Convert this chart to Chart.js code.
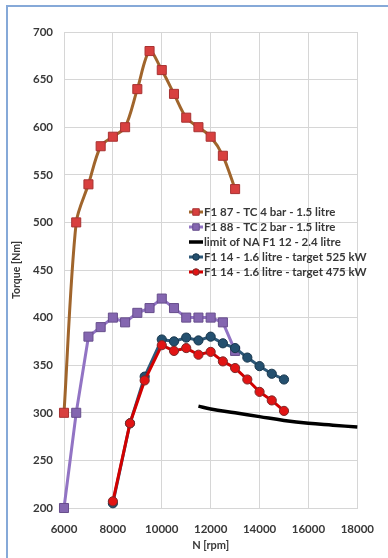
<!DOCTYPE html>
<html>
<head>
<meta charset="utf-8">
<script src="https://cdn.jsdelivr.net/npm/chart.js@4/dist/chart.umd.min.js"></script>
<style>
  html, body { margin: 0; padding: 0; background: #ffffff; }
  #wrap { position: relative; width: 388px; height: 558px; overflow: hidden; }
  #frame { position: absolute; left: 6px; top: 5px; right: -10px; bottom: -10px;
           border-top: 2px solid #86a9d8; border-left: 2px solid #86a9d8; }
  canvas { position: absolute; left: 0; top: 0; }
</style>
</head>
<body>
<div id="wrap">
  <div id="frame"></div>
  <canvas id="torque" width="388" height="558"></canvas>
</div>
<script>
// Engine speed (rpm) and torque (Nm) per engine
const rpmTurbo = [6000, 6500, 7000, 7500, 8000, 8500, 9000, 9500, 10000, 10500, 11000, 11500, 12000, 12500, 13000];
const torqueF187 = [300, 500, 540, 580, 590, 600, 640, 680, 660, 635, 610, 600, 590, 570, 535];
const torqueF188 = [200, 300, 380, 390, 400, 395, 405, 410, 420, 410, 400, 400, 400, 395, 365];

const rpmNA = [11500, 12000, 13000, 14000, 15000, 16000, 17000, 18000];
const torqueNA = [307, 304, 300, 296, 292, 289, 287, 285];

const rpmF114 = [8000, 8700, 9300, 10000, 10500, 11000, 11500, 12000, 12500, 13000, 13500, 14000, 14500, 15000];
const torque525 = [205, 289, 338, 377, 375, 379, 376, 380, 373, 368, 358, 349, 341, 335];
const torque475 = [207, 289, 334, 371, 365, 368, 361, 364, 354, 347, 335, 322, 313, 302];

const seriesNames = [
  'F1 87 - TC 4 bar - 1.5 litre',
  'F1 88 - TC 2 bar - 1.5 litre',
  'limit of NA F1 12 - 2.4 litre',
  'F1 14 - 1.6 litre - target 525 kW',
  'F1 14 - 1.6 litre - target 475 kW'
];

const xTicks = [6000, 8000, 10000, 12000, 14000, 16000, 18000];
const yTicks = [200, 250, 300, 350, 400, 450, 500, 550, 600, 650, 700];

const FONT = "'Lato', 'Open Sans', sans-serif";
const TEXT = '#383838';
const GRID = '#d6d6d6';

const pts = (xs, ys) => xs.map((x, i) => ({ x: x, y: ys[i] }));

// Legend drawn inside the plot area, to the right of the curves
const insideLegend = {
  id: 'insideLegend',
  afterDraw(chart) {
    const ctx = chart.ctx;
    const x0 = 189, y0 = 212, rowH = 15;
    ctx.save();
    ctx.font = 'bold 11.5px ' + FONT;
    ctx.textBaseline = 'middle';
    ctx.textAlign = 'left';
    chart.data.datasets.forEach((ds, i) => {
      const y = y0 + i * rowH;
      ctx.strokeStyle = ds.borderColor;
      ctx.lineWidth = ds.borderWidth;
      ctx.beginPath();
      ctx.moveTo(x0, y);
      ctx.lineTo(x0 + 14, y);
      ctx.stroke();
      if (ds.pointRadius > 0) {
        ctx.fillStyle = ds.pointBackgroundColor;
        ctx.strokeStyle = ds.pointBorderColor;
        ctx.lineWidth = ds.pointBorderWidth;
        Chart.helpers.drawPoint(ctx, {
          pointStyle: ds.pointStyle,
          radius: ds.pointRadius * 0.72,
          borderWidth: ds.pointBorderWidth
        }, x0 + 7, y);
      }
      ctx.fillStyle = TEXT;
      ctx.fillText(ds.label, x0 + 15, y + 0.5);
    });
    ctx.restore();
  }
};

new Chart(document.getElementById('torque'), {
  type: 'line',
  data: {
    datasets: [
      {
        label: seriesNames[0], data: pts(rpmTurbo, torqueF187), order: 4, clip: false,
        borderColor: '#a0652c', borderWidth: 3, tension: 0.3,
        pointStyle: 'rect', pointRadius: 6.4, pointBorderWidth: 1,
        pointBackgroundColor: '#d8403f', pointBorderColor: '#a83232'
      },
      {
        label: seriesNames[1], data: pts(rpmTurbo, torqueF188), order: 3, clip: false,
        borderColor: '#9274c4', borderWidth: 3, tension: 0,
        pointStyle: 'rect', pointRadius: 6.4, pointBorderWidth: 1,
        pointBackgroundColor: '#8466b0', pointBorderColor: '#674e8c'
      },
      {
        label: seriesNames[2], data: pts(rpmNA, torqueNA), order: 2, clip: false,
        borderColor: '#000000', borderWidth: 3.5, tension: 0.4,
        pointRadius: 0, pointBorderWidth: 0,
        pointBackgroundColor: '#000000', pointBorderColor: '#000000'
      },
      {
        label: seriesNames[3], data: pts(rpmF114, torque525), order: 1, clip: false,
        borderColor: '#2d5878', borderWidth: 3, tension: 0,
        pointStyle: 'circle', pointRadius: 4.6, pointBorderWidth: 1,
        pointBackgroundColor: '#24506f', pointBorderColor: '#18364c'
      },
      {
        label: seriesNames[4], data: pts(rpmF114, torque475), order: 0, clip: false,
        borderColor: '#d20000', borderWidth: 3, tension: 0,
        pointStyle: 'circle', pointRadius: 4.6, pointBorderWidth: 1,
        pointBackgroundColor: '#e21414', pointBorderColor: '#7a2a2a'
      }
    ]
  },
  options: {
    responsive: false,
    animation: false,
    events: [],
    layout: { padding: { top: 32, right: 16, left: 0, bottom: 0 } },
    plugins: { legend: { display: false }, tooltip: { enabled: false } },
    scales: {
      x: {
        type: 'linear', min: xTicks[0], max: xTicks[xTicks.length - 1],
        afterFit: s => { s.height = 50; },
        afterBuildTicks: s => { s.ticks = xTicks.map(v => ({ value: v })); },
        grid: { color: GRID, lineWidth: 1, drawTicks: false },
        border: { color: GRID, width: 1 },
        ticks: { padding: 14, color: TEXT, font: { family: FONT, size: 11.5, weight: 'bold' },
                 maxRotation: 0, callback: v => String(v) },
        title: { display: true, text: 'N [rpm]', color: TEXT,
                 font: { family: FONT, size: 11, weight: 'bold' }, padding: { top: 0, bottom: 6 } }
      },
      y: {
        type: 'linear', min: yTicks[0], max: yTicks[yTicks.length - 1],
        afterFit: s => { s.width = 64; },
        afterBuildTicks: s => { s.ticks = yTicks.map(v => ({ value: v })); },
        grid: { color: GRID, lineWidth: 1, drawTicks: false },
        border: { color: GRID, width: 1 },
        ticks: { padding: 11, color: TEXT, font: { family: FONT, size: 11.5, weight: 'bold' },
                 callback: v => String(v) },
        title: { display: true, text: 'Torque [Nm]', color: TEXT,
                 font: { family: FONT, size: 10.5, weight: 'bold' }, padding: { top: 10, bottom: 0 } }
      }
    }
  },
  plugins: [insideLegend]
});
</script>
</body>
</html>
